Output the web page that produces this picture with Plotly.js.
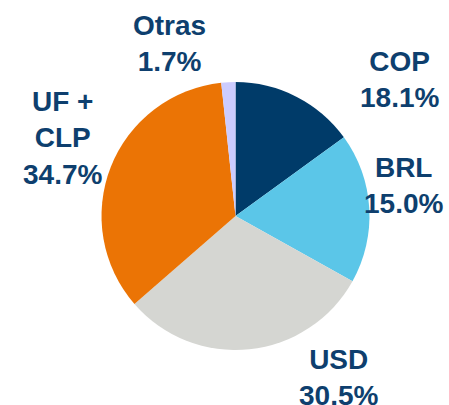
<!DOCTYPE html>
<html>
<head>
<meta charset="utf-8">
<script src="https://cdn.plot.ly/plotly-3.0.1.min.js"></script>
<style>html,body{margin:0;padding:0;background:#fff}#chart{width:449px;height:405px}</style>
</head>
<body>
<div id="chart"></div>
<script>
// Currency categories and labelled shares (%)
const currencies = ['COP', 'BRL', 'USD', 'UF +<br>CLP', 'Otras'];
const labelShares = [18.1, 15.0, 30.5, 34.7, 1.7];
// Slice sizes as drawn in the reference (%)
const sliceSizes = [15.0, 18.1, 30.5, 34.7, 1.7];
const sliceColors = ['#003B69', '#5BC6E8', '#D5D6D2', '#EB7405', '#CCCCFF'];
// Label placement (paper coords)
const labelX = [0.889, 0.898, 0.753, 0.140, 0.3786];
const labelY = [0.8025, 0.541, 0.0667, 0.659, 0.8938];

const textColor = '#0E3F6E';

const annotations = currencies.map((c, i) => ({
  xref: 'paper', yref: 'paper',
  x: labelX[i], y: labelY[i],
  xanchor: 'center', yanchor: 'middle',
  text: '<b>' + c + '<br>' + labelShares[i].toFixed(1) + '%</b>',
  showarrow: false,
  align: 'center',
  font: {family: 'Liberation Sans, Arial, sans-serif', size: 28, color: textColor}
}));

const data = [{
  type: 'pie',
  labels: currencies,
  values: sliceSizes,
  sort: false,
  direction: 'clockwise',
  rotation: 0,
  textinfo: 'none',
  hoverinfo: 'none',
  marker: {colors: sliceColors, line: {width: 0}},
  domain: {x: [0.2261, 0.8229], y: [0.1358, 0.7975]}
}];

const layout = {
  width: 449, height: 405,
  margin: {l: 0, r: 0, t: 0, b: 0},
  showlegend: false,
  paper_bgcolor: '#ffffff',
  annotations: annotations
};

Plotly.newPlot('chart', data, layout, {displayModeBar: false, staticPlot: true});
</script>
</body>
</html>
